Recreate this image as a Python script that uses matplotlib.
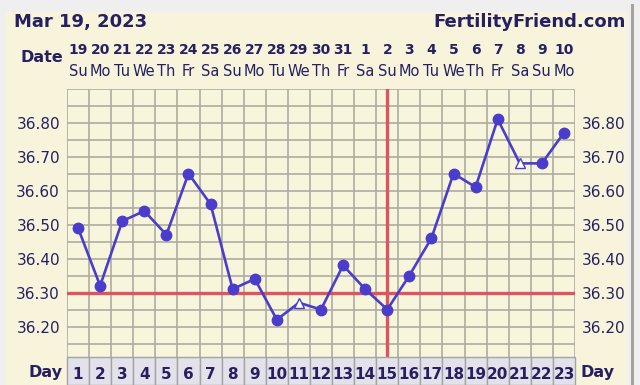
import matplotlib.pyplot as plt
from matplotlib.patches import Rectangle

# cycle data
cycle_days = list(range(1, 24))
dates = ["19", "20", "21", "22", "23", "24", "25", "26", "27", "28", "29", "30", "31",
         "1", "2", "3", "4", "5", "6", "7", "8", "9", "10"]
weekdays = ["Su", "Mo", "Tu", "We", "Th", "Fr", "Sa"] * 3 + ["Su", "Mo"]
temps = [36.49, 36.32, 36.51, 36.54, 36.47, 36.65, 36.56, 36.31, 36.34, 36.22,
         36.27, 36.25, 36.38, 36.31, 36.25, 36.35, 36.46, 36.65, 36.61, 36.81,
         36.68, 36.68, 36.77]
open_days = [11, 21]          # drawn as open triangles
coverline = 36.30
ovulation_day = 15
y_ticks = [36.20, 36.30, 36.40, 36.50, 36.60, 36.70, 36.80]

navy = "#262063"
blue = "#4a3dcc"
red = "#dc5560"
cream = "#f8f5dd"
grid_col = "#aeaca2"

W, H = 640, 385
fig = plt.figure(figsize=(6.4, 3.85), dpi=100)
fig.patch.set_facecolor("#efefef")

# cream panel (behind the axes)
fig.patches.append(Rectangle((5 / W, 0), 622 / W, 1 - 12 / H, transform=fig.transFigure,
                             facecolor="#f7f4db", edgecolor="none", zorder=-5))
# scrollbar on the right edge
fig.patches.append(Rectangle((631 / W, 0), 3 / W, 1 - 4 / H, transform=fig.transFigure,
                             facecolor="#a5a39a", edgecolor="none", zorder=-5))

x0, x1 = 67, 575
ytop, ybot = 88.6, 360.5
ax = fig.add_axes([x0 / W, 1 - ybot / H, (x1 - x0) / W, (ybot - ytop) / H])
ax.set_facecolor(cream)
ax.set_xlim(0.5, 23.5)
ax.set_ylim(36.10, 36.90)

# grid
for i in range(24):
    ax.axvline(i + 0.5, color=grid_col, lw=1.2, zorder=1)
for k in range(17):
    ax.axhline(36.10 + k * 0.05, color=grid_col, lw=1.2, zorder=1)

ax.axhline(coverline, color=red, lw=2.4, zorder=2)
ax.axvline(ovulation_day, color=red, lw=2.4, zorder=2)

ax.plot(cycle_days, temps, color=blue, lw=1.9, zorder=3)
closed = [(d, t) for d, t in zip(cycle_days, temps) if d not in open_days]
opened = [(d, t) for d, t in zip(cycle_days, temps) if d in open_days]
ax.plot([c[0] for c in closed], [c[1] for c in closed], "o", color=blue, ms=7.5, zorder=4)
ax.plot([c[0] for c in opened], [c[1] for c in opened], "^", mfc="white", mec=blue,
        mew=1.0, ms=7.5, zorder=4)

ax.set_xticks([])
ax.set_yticks(y_ticks)
ax.set_yticklabels([f"{v:.2f}" for v in y_ticks], color=navy, fontsize=11)
ax.tick_params(axis="y", length=0, pad=5, labelright=True, labelleft=True)
for s in ax.spines.values():
    s.set_visible(False)

# day row below the grid
axd = fig.add_axes([x0 / W, 0, (x1 - x0) / W, (H - 362) / H])
axd.set_xlim(0.5, 23.5)
axd.set_ylim(0, 1)
axd.axis("off")
for d in cycle_days:
    axd.add_patch(Rectangle((d - 0.5, 0), 1, 1.2, facecolor="#e3e2ea",
                            edgecolor="#a4a4a4", lw=1.0, clip_on=False))
    axd.text(d, 0.45, str(d), ha="center", va="center", fontsize=11,
             fontweight="bold", color=navy, clip_on=False)

# header text
fig.text(14 / W, 1 - 22 / H, "Mar 19, 2023", fontsize=13, fontweight="bold",
         color=navy, va="center", ha="left")
fig.text(626 / W, 1 - 22 / H, "FertilityFriend.com", fontsize=13, fontweight="bold",
         color=navy, va="center", ha="right")
fig.text(63 / W, 1 - 57 / H, "Date", fontsize=11.5, fontweight="bold", color=navy,
         va="center", ha="right")
fig.text(63 / W, 1 - 372 / H, "Day", fontsize=11.5, fontweight="bold", color=navy,
         va="center", ha="right")
fig.text(581 / W, 1 - 372 / H, "Day", fontsize=11.5, fontweight="bold", color=navy,
         va="center", ha="left")

for d, dt, wd in zip(cycle_days, dates, weekdays):
    xf = (x0 + (d - 0.5) * (x1 - x0) / 23) / W
    fig.text(xf, 1 - 50 / H, dt, fontsize=10, fontweight="bold", color=navy,
             ha="center", va="center")
    fig.text(xf, 1 - 72 / H, wd, fontsize=10.5, color=navy, ha="center", va="center")

fig.savefig("out.png", dpi=100, facecolor=fig.get_facecolor())
